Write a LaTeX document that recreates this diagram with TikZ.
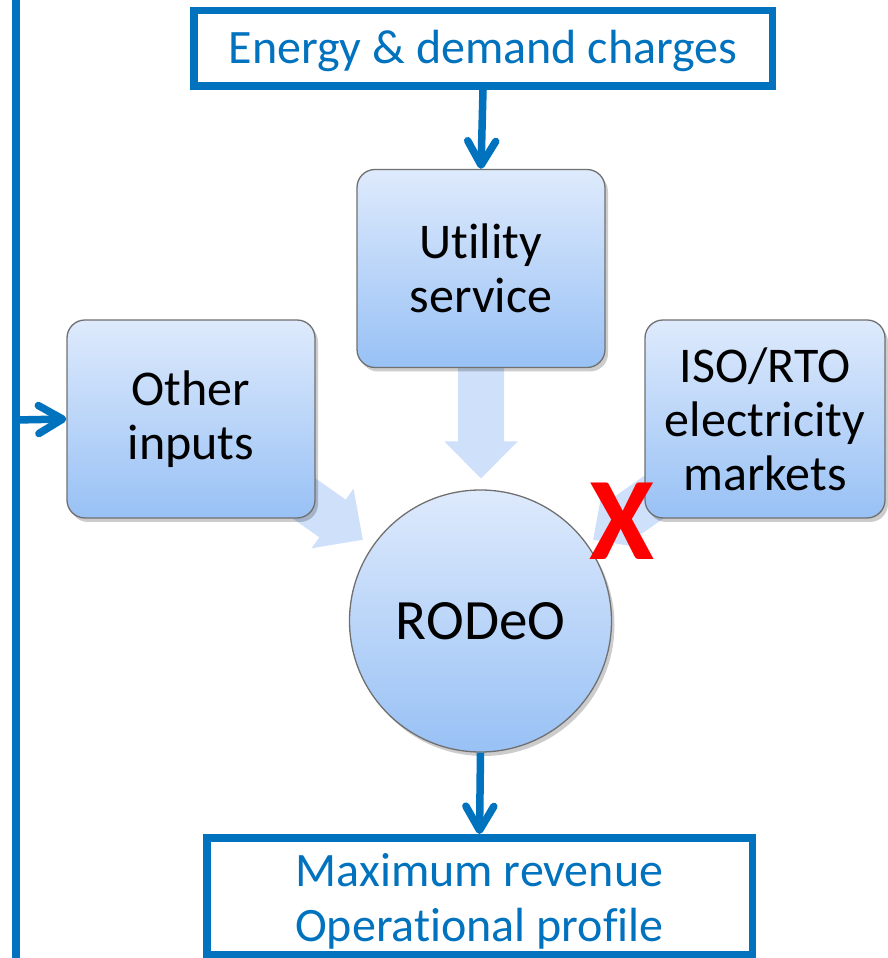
\documentclass[tikz,border=0pt]{standalone}
\usepackage{fontspec}
\setmainfont{Carlito}[Ligatures={NoCommon,NoContextual},Contextuals=NoAlternate]
\usetikzlibrary{arrows.meta,shadows}
\definecolor{lineblue}{RGB}{0,114,190}
\definecolor{boxtop}{RGB}{222,234,252}
\definecolor{boxbot}{RGB}{152,193,245}
\definecolor{boxedge}{RGB}{112,112,112}
\definecolor{blockfill}{RGB}{206,224,250}
\definecolor{xred}{RGB}{255,0,0}
\begin{document}
\begin{tikzpicture}[x=1pt,y=1pt,
  softshadow/.style={drop shadow={shadow xshift=3pt,shadow yshift=-4pt,opacity=0.2,fill=black}},
  inbox/.style={draw=boxedge,line width=1.3pt,rounded corners=18pt,top color=boxtop,bottom color=boxbot,
    minimum width=248pt,minimum height=198pt,align=center,inner sep=0pt,
    font=\fontsize{50}{54}\selectfont,softshadow},
  outbox/.style={draw=lineblue,line width=7.5pt,fill=white,text=lineblue,align=center,inner sep=0pt,
    font=\fontsize{48}{55}\selectfont,softshadow},
  flow/.style={draw=lineblue,line width=7.5pt,-{Straight Barb[length=24pt,width=28pt,round]}},
  block/.style={fill=blockfill}
]
\useasboundingbox (0,0) rectangle (887,958);

% coordinates of the outer left line
\coordinate (ltop) at (16,958);
\coordinate (lbot) at (16,0);
\coordinate (ljoin) at (16,538);

% centres of the input boxes
\coordinate (uc) at (481,689.5);
\coordinate (oc) at (191,539);
\coordinate (ic) at (765,539);

% block arrows (behind the boxes)
\begin{scope}[shift={(uc)},rotate=-90]
  \fill[block] (0,-23) -- (173,-23) -- (173,-36.5) -- (210,0) -- (173,36.5) -- (173,23) -- (0,23) -- cycle;
\end{scope}
\begin{scope}[shift={(oc)},rotate=-35.1]
  \fill[block] (0,-23) -- (173,-23) -- (173,-36.5) -- (210,0) -- (173,36.5) -- (173,23) -- (0,23) -- cycle;
\end{scope}
\begin{scope}[shift={(ic)},rotate=-144.9]
  \fill[block] (0,-23) -- (173,-23) -- (173,-36.5) -- (210,0) -- (173,36.5) -- (173,23) -- (0,23) -- cycle;
\end{scope}

% boxes
\node[outbox,minimum width=578.5pt,minimum height=75.5pt] (energy) at (483,909.5) {\rule{0pt}{39pt}Energy \& demand charges};
\node[inbox] (utility) at (uc) {Utility\\service};
\node[inbox] (other) at (oc) {Other\\inputs};
\node[inbox,minimum width=240pt] (iso) at (ic) {ISO/RTO\\electricity\\markets};
\node[circle,draw=boxedge,line width=1.3pt,top color=boxtop,bottom color=boxbot,minimum size=262pt,inner sep=0pt,
  font=\fontsize{57}{60}\selectfont,softshadow] (rodeo) at (480.5,337) {RODeO};
\node[outbox,minimum width=545.5pt,minimum height=117.25pt] (result) at (479.5,61.6) {\rule{0pt}{43pt}Maximum revenue\\Operat\kern0pt ional profile};

% red cross
\node[text=xred,font=\fontsize{118}{118}\selectfont\bfseries,inner sep=0pt] (cross) at (622,437) {X};

% connectors
\draw[lineblue,line width=7.5pt] (ltop) -- (lbot);
\draw[flow] (ljoin) -- (other.west);
\draw[flow] (energy.south) -- (utility.north);
\draw[flow] (rodeo.south) -- (result.north);
\end{tikzpicture}
\end{document}
